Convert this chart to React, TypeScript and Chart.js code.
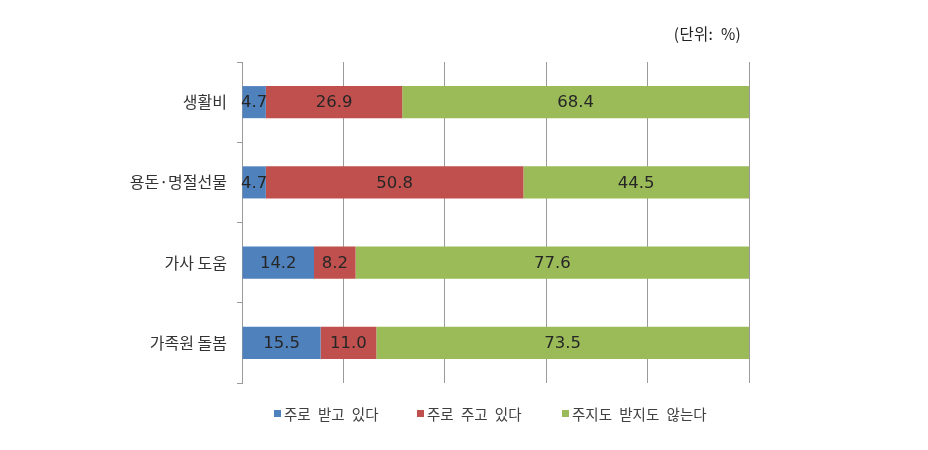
import React, { useEffect, useRef } from "react";
import { Chart, registerables } from "chart.js";

Chart.register(...registerables);

const categories = ["생활비", "용돈·명절선물", "가사 도움", "가족원 돌봄"];
const seriesNames = ["주로 받고 있다", "주로 주고 있다", "주지도 받지도 않는다"];
const receiving = [4.7, 4.7, 14.2, 15.5];
const giving = [26.9, 50.8, 8.2, 11.0];
const neither = [68.4, 44.5, 77.6, 73.5];
const seriesColors = ["#4F81BD", "#C0504D", "#9BBB59"];
const xMin = 0;
const xMax = 100;
const xStep = 20;
const unitLabel = "(단위: %)";

const legendLefts = [274, 417, 562];

const valueLabels = {
  id: "valueLabels",
  afterDatasetsDraw(chart: any) {
    const ctx = chart.ctx;
    ctx.save();
    ctx.font = "16.5px 'DejaVu Sans', sans-serif";
    ctx.fillStyle = "#262626";
    ctx.textAlign = "center";
    ctx.textBaseline = "middle";
    chart.data.datasets.forEach((ds: any, di: number) => {
      const meta = chart.getDatasetMeta(di);
      meta.data.forEach((el: any, i: number) => {
        const p = el.getProps(["x", "base", "y"], true);
        const v = ds.data[i];
        ctx.fillText(Number(v).toFixed(1), (p.x + p.base) / 2, p.y + 1);
      });
    });
    ctx.restore();
  },
};

export default function App() {
  const ref = useRef<HTMLCanvasElement | null>(null);

  useEffect(() => {
    if (!ref.current) return;
    const chart = new Chart(ref.current, {
      type: "bar",
      data: {
        labels: categories,
        datasets: [receiving, giving, neither].map((d, i) => ({
          label: seriesNames[i],
          data: d,
          backgroundColor: seriesColors[i],
          borderWidth: 0,
          categoryPercentage: 1,
          barPercentage: 0.4,
        })),
      },
      options: {
        indexAxis: "y",
        responsive: false,
        animation: false,
        devicePixelRatio: 1,
        layout: { padding: { top: 62, bottom: 67, left: 0, right: 179 } },
        plugins: {
          legend: { display: false },
          tooltip: { enabled: false },
          title: { display: false },
        },
        scales: {
          x: {
            stacked: true,
            min: xMin,
            max: xMax,
            ticks: { display: false, stepSize: xStep },
            grid: { color: "#9a9a9a", lineWidth: 1, drawTicks: false },
            border: { display: false },
            afterFit: (s: any) => {
              s.height = 0;
            },
          },
          y: {
            stacked: true,
            ticks: {
              color: "#333333",
              font: { family: "'Noto Sans CJK KR', sans-serif", size: 16 },
              padding: 10,
            },
            grid: {
              drawOnChartArea: false,
              drawTicks: true,
              tickLength: 5,
              color: "#9a9a9a",
            },
            border: { display: true, color: "#9a9a9a", width: 1 },
            afterFit: (s: any) => {
              s.width = 242;
            },
          },
        },
      },
      plugins: [valueLabels],
    } as any);
    return () => chart.destroy();
  }, []);

  return (
    <div
      style={{
        position: "absolute",
        left: 0,
        top: 0,
        width: 928,
        height: 450,
        background: "#ffffff",
        fontFamily: "'Noto Sans CJK KR', sans-serif",
      }}
    >
      <canvas ref={ref} width={928} height={450} style={{ display: "block" }} />
      <div
        style={{
          position: "absolute",
          left: 0,
          width: 741,
          top: 22,
          textAlign: "right",
          fontSize: 15.5,
          color: "#222",
          wordSpacing: 4,
          letterSpacing: 0.3,
          lineHeight: "22px",
        }}
      >
        {unitLabel}
      </div>
      {seriesNames.map((name, i) => (
        <div
          key={name}
          style={{
            position: "absolute",
            left: legendLefts[i],
            top: 403,
            height: 20,
            display: "flex",
            alignItems: "center",
            fontSize: 14.5,
            color: "#404040",
            wordSpacing: 4,
            whiteSpace: "nowrap",
          }}
        >
          <span
            style={{
              display: "inline-block",
              width: 7,
              height: 7,
              background: seriesColors[i],
              marginRight: 3,
            }}
          />
          <span>{name}</span>
        </div>
      ))}
    </div>
  );
}
